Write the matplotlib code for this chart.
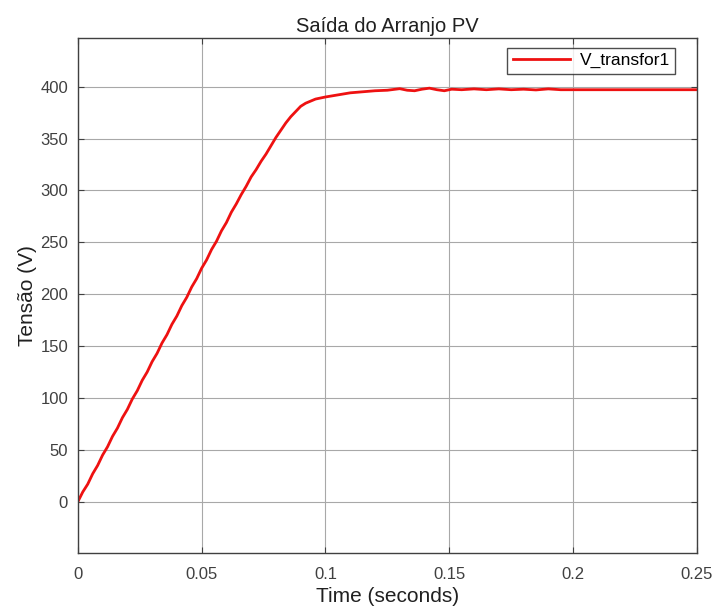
import matplotlib
matplotlib.use("Agg")
import matplotlib.pyplot as plt

plt.rcParams['font.family'] = ['Liberation Sans', 'DejaVu Sans']

# ramp part, sampled every 2 ms
t_ramp = [0.000, 0.002, 0.004, 0.006, 0.008, 0.010, 0.012, 0.014, 0.016, 0.018,
          0.020, 0.022, 0.024, 0.026, 0.028, 0.030, 0.032, 0.034, 0.036, 0.038,
          0.040, 0.042, 0.044, 0.046, 0.048, 0.050, 0.052, 0.054, 0.056, 0.058,
          0.060, 0.062, 0.064, 0.066, 0.068, 0.070, 0.072, 0.074, 0.076, 0.078]
v_ramp = [0, 9.5, 17, 27, 35, 45, 53, 63, 71, 81,
          89, 99, 107, 117, 125, 135, 143, 153, 161, 171,
          179, 189, 197, 207, 215, 225, 233, 243, 251, 261,
          269, 279, 287, 296, 304, 313, 320, 328, 335, 343]

# knee and steady state
t_tail = [0.080, 0.082, 0.084, 0.086, 0.088, 0.090, 0.092, 0.094, 0.096, 0.098,
          0.100, 0.105, 0.110, 0.115, 0.120, 0.125, 0.130, 0.133, 0.136, 0.139,
          0.142, 0.145, 0.148, 0.151, 0.155, 0.160, 0.165, 0.170, 0.175, 0.180,
          0.185, 0.190, 0.195, 0.200, 0.250]
v_tail = [351, 358, 365, 371, 376, 381, 384, 386, 388, 389,
          390, 392, 394, 395, 396, 396.5, 398, 396.5, 396, 397.5,
          398.5, 397, 396, 397.5, 397, 397.8, 397, 397.8, 397, 397.5,
          396.8, 397.8, 397, 397, 397]

t = t_ramp + t_tail
v = v_ramp + v_tail

fig = plt.figure(figsize=(7.14, 6.10), dpi=100)
ax = fig.add_axes([0.109, 0.094, 0.867, 0.844])

ax.plot(t, v, color='#ee1111', lw=2, label='V_transfor1')

ax.set_xlim(0, 0.25)
ax.set_ylim(-49, 447)
ax.set_xticks([0, 0.05, 0.1, 0.15, 0.2, 0.25])
ax.set_xticklabels(['0', '0.05', '0.1', '0.15', '0.2', '0.25'])
ax.set_yticks([0, 50, 100, 150, 200, 250, 300, 350, 400])

ax.grid(True, color='#a8a8a8', lw=0.8)
ax.tick_params(direction='in', top=True, right=True, length=4,
               labelsize=12, labelcolor='#404040', color='#404040')
ax.tick_params(axis='x', pad=10)
ax.tick_params(axis='y', pad=7)
for s in ax.spines.values():
    s.set_color('#404040')
    s.set_linewidth(1)

ax.set_title('Saída do Arranjo PV', fontsize=14.5, color='#202020', pad=4)
ax.set_xlabel('Time (seconds)', fontsize=15, color='#202020', labelpad=4)
ax.set_ylabel('Tensão (V)', fontsize=15, color='#202020', labelpad=2.5)

leg = ax.legend(loc='upper right', bbox_to_anchor=(0.9645, 0.9806),
                borderaxespad=0, fancybox=False, edgecolor='#202020',
                fontsize=12.5, handlelength=3.3, handletextpad=0.55,
                borderpad=0.3)
leg.get_frame().set_linewidth(1)

fig.savefig('out.png', dpi=100)
